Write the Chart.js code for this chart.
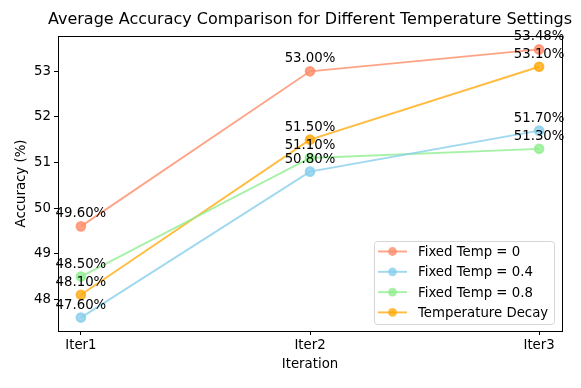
<!DOCTYPE html>
<html>
<head>
<meta charset="utf-8">
<script src="https://cdn.jsdelivr.net/npm/chart.js@4.4.0/dist/chart.umd.min.js"></script>
<style>
  html, body { margin: 0; padding: 0; background: #fff; }
  #wrap { width: 581px; height: 388px; }
</style>
</head>
<body>
<div id="wrap"><canvas id="line-chart" width="581" height="388"></canvas></div>
<script>
// data
var chartTitle = 'Average Accuracy Comparison for Different Temperature Settings';
var iterations = ['Iter1', 'Iter2', 'Iter3'];
var seriesNames = ['Fixed Temp = 0', 'Fixed Temp = 0.4', 'Fixed Temp = 0.8', 'Temperature Decay'];
var fixedTemp0 = [49.60, 53.00, 53.48];
var fixedTemp04 = [47.60, 50.80, 51.70];
var fixedTemp08 = [48.50, 51.10, 51.30];
var tempDecay = [48.10, 51.50, 53.10];
var yTicks = [48, 49, 50, 51, 52, 53];

var colors = ['rgba(255,140,105,0.8)', 'rgba(135,206,235,0.8)', 'rgba(144,238,144,0.8)', 'rgba(255,165,0,0.75)'];
var FONT = 'DejaVu Sans';
var SMALL = 13.3;

function points(arr) {
  return arr.map(function (v, i) { return {x: i, y: v}; });
}

var allSeries = [fixedTemp0, fixedTemp04, fixedTemp08, tempDecay];
var datasets = allSeries.map(function (s, k) {
  return {
    label: seriesNames[k],
    data: points(s),
    borderColor: colors[k],
    backgroundColor: colors[k],
    pointBackgroundColor: colors[k],
    pointBorderColor: colors[k],
    borderWidth: 1.9,
    pointRadius: 4.4,
    pointHoverRadius: 4.4,
    fill: false,
    clip: false
  };
});

// value labels above each point
var valueLabels = {
  id: 'valueLabels',
  afterDatasetsDraw: function (chart) {
    var ctx = chart.ctx;
    ctx.save();
    ctx.font = SMALL + 'px "' + FONT + '"';
    ctx.fillStyle = '#000';
    ctx.textAlign = 'center';
    ctx.textBaseline = 'alphabetic';
    chart.data.datasets.forEach(function (ds, k) {
      var meta = chart.getDatasetMeta(k);
      meta.data.forEach(function (pt, i) {
        ctx.fillText(ds.data[i].y.toFixed(2) + '%', pt.x, pt.y - 9);
      });
    });
    ctx.restore();
  }
};

// matplotlib-like frame, title and legend
var frameAndLegend = {
  id: 'frameAndLegend',
  afterDraw: function (chart) {
    var ctx = chart.ctx;
    var a = chart.chartArea;
    ctx.save();
    ctx.strokeStyle = '#000';
    ctx.lineWidth = 1;
    ctx.strokeRect(Math.round(a.left) + 0.5, Math.round(a.top) + 0.5, Math.round(a.right - a.left), Math.round(a.bottom - a.top));

    ctx.font = '16px "' + FONT + '"';
    ctx.fillStyle = '#000';
    ctx.textAlign = 'center';
    ctx.textBaseline = 'middle';
    ctx.fillText(chartTitle, (a.left + a.right) / 2, 20);

    var bx = 374, by = 241, bw = 180, bh = 83;
    ctx.fillStyle = 'rgba(255,255,255,0.85)';
    ctx.strokeStyle = '#d6d6d6';
    ctx.beginPath();
    ctx.roundRect(bx + 0.5, by + 0.5, bw, bh, 3);
    ctx.fill();
    ctx.stroke();
    ctx.font = SMALL + 'px "' + FONT + '"';
    ctx.textBaseline = 'middle';
    ctx.textAlign = 'left';
    chart.data.datasets.forEach(function (ds, k) {
      var y = by + 10.5 + k * 20.3;
      ctx.strokeStyle = ds.borderColor;
      ctx.lineWidth = 1.9;
      ctx.beginPath();
      ctx.moveTo(bx + 4, y);
      ctx.lineTo(bx + 33, y);
      ctx.stroke();
      ctx.fillStyle = ds.borderColor;
      ctx.beginPath();
      ctx.arc(bx + 18.5, y, 4.4, 0, Math.PI * 2);
      ctx.fill();
      ctx.fillStyle = '#000';
      ctx.fillText(ds.label, bx + 44, y + 1);
    });
    ctx.restore();
  }
};

Chart.defaults.font.family = FONT;
Chart.defaults.color = '#000';

new Chart(document.getElementById('line-chart'), {
  type: 'line',
  data: { datasets: datasets },
  options: {
    responsive: false,
    animation: false,
    events: [],
    layout: { padding: { left: 0, right: 19, top: 36, bottom: 0 } },
    plugins: {
      legend: { display: false },
      tooltip: { enabled: false },
      title: { display: false }
    },
    scales: {
      x: {
        type: 'linear',
        min: -0.1,
        max: 2.1,
        afterBuildTicks: function (scale) {
          scale.ticks = iterations.map(function (_, i) { return {value: i}; });
        },
        afterFit: function (scale) { scale.height = 57; },
        ticks: {
          callback: function (v) { return iterations[v]; },
          font: { size: SMALL },
          color: '#000',
          padding: 3,
          maxRotation: 0
        },
        grid: { display: true, drawOnChartArea: false, drawTicks: true, tickLength: 4, color: '#000' },
        border: { display: true, color: '#000' },
        title: { display: true, text: 'Iteration', font: { size: SMALL }, color: '#000', padding: { top: 0, bottom: 15 } }
      },
      y: {
        type: 'linear',
        min: 47.306,
        max: 53.774,
        afterBuildTicks: function (scale) {
          scale.ticks = yTicks.map(function (v) { return {value: v}; });
        },
        afterFit: function (scale) { scale.width = 58; },
        ticks: { font: { size: SMALL }, color: '#000', padding: 3 },
        grid: { display: true, drawOnChartArea: false, drawTicks: true, tickLength: 4, color: '#000' },
        border: { display: true, color: '#000' },
        title: { display: true, text: 'Accuracy (%)', font: { size: SMALL }, color: '#000', padding: { top: 14, bottom: 0 } }
      }
    }
  },
  plugins: [valueLabels, frameAndLegend]
});
</script>
</body>
</html>
